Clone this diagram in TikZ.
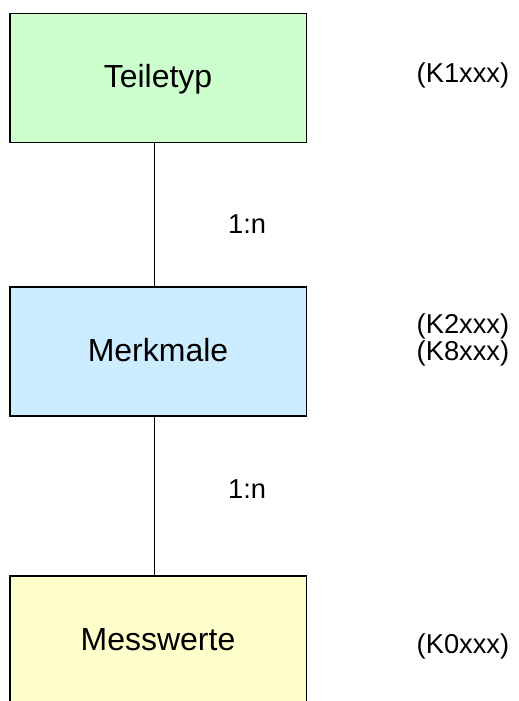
\documentclass[tikz,border=0pt]{standalone}
\usepackage{fontspec}
\setmainfont{Liberation Sans}
\definecolor{boxgreen}{HTML}{CCFFCC}
\definecolor{boxblue}{HTML}{CCECFF}
\definecolor{boxyellow}{HTML}{FFFFCC}
\begin{document}
\begin{tikzpicture}[x=1pt,y=-1pt,
  entity/.style={draw=black, line width=1.6pt, minimum width=296.5pt, minimum height=129pt, inner sep=0pt, outer sep=0pt, anchor=north west},
  title/.style={inner sep=0pt, anchor=base, font=\fontsize{32}{38}\selectfont},
  card/.style={inner sep=0pt, anchor=base west, font=\fontsize{27.3}{28}\selectfont},
  rel/.style={draw=black, line width=1.1pt}]
\useasboundingbox (0,0) rectangle (519,701);
\clip (0,0) rectangle (519,701);
\node[entity, fill=boxgreen] (teil) at (10,13.5) {};
\node[entity, fill=boxblue, minimum height=128.5pt] (merk) at (10,287.2) {};
\node[entity, fill=boxyellow] (mess) at (10,575.8) {};
\node[title] (tteil) at (158,88) {Teiletyp};
\node[title] (tmerk) at (158,361.7) {Merkmale};
\node[title] (tmess) at (158,650.7) {Messwerte};
\draw[rel] ([xshift=-4pt]teil.south) -- ([xshift=-4pt]merk.north);
\draw[rel] ([xshift=-4pt]merk.south) -- ([xshift=-4pt]mess.north);
\node[card] (c1) at (228,233) {1:n};
\node[card] (c2) at (228,498) {1:n};
\node[card] (k1) at (416.5,82) {(K1xxx)};
\node[card] (k2) at (416.5,333) {(K2xxx)};
\node[card] (k8) at (416.5,360) {(K8xxx)};
\node[card] (k0) at (416.5,653.5) {(K0xxx)};
\end{tikzpicture}
\end{document}
